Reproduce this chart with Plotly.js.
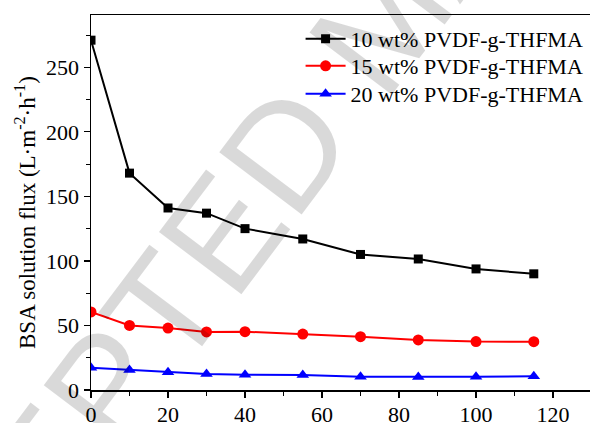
<!DOCTYPE html>
<html><head><meta charset="utf-8">
<script src="https://cdn.plot.ly/plotly-3.0.1.min.js"></script>
<style>html,body{margin:0;padding:0;overflow:hidden;background:#fff}</style>
</head><body><div id="chart" style="width:590px;height:423px"></div>
<script>
const time = [0, 10, 20, 30, 40, 55, 70, 85, 100, 115];
const flux10 = [271, 168, 141, 137, 125, 117, 105, 101.5, 93.8, 90];
const flux15 = [60.5, 50, 48, 45, 45.2, 43.3, 41.3, 38.8, 37.5, 37.4];
const flux20 = [17.3, 15.5, 13.8, 12.3, 11.8, 11.6, 10.3, 10, 10.2, 10.7];
const names = ['10 wt% PVDF-g-THFMA', '15 wt% PVDF-g-THFMA', '20 wt% PVDF-g-THFMA'];
const yTitle = 'BSA solution flux (L·m<sup>-2</sup>·h<sup>-1</sup>)';
const watermark = 'ACCEPTED MANUSCRIPT';

const font = {family: 'Liberation Serif, Times New Roman, serif', color: '#000'};
function tr(y, name, color, symbol, size, leg) {
  return {x: time, y: y, name: name, type: 'scatter', mode: 'lines+markers', legend: leg,
    line: {color: color, width: 2}, marker: {color: color, symbol: symbol, size: size}};
}
const data = [
  tr(flux10, names[0], '#000000', 'square', 9, 'legend'),
  tr(flux15, names[1], '#ff0000', 'circle', 11, 'legend2'),
  tr(flux20, names[2], '#0000ff', 'triangle-up', 11, 'legend3')
];
function leg(rowY) {
  return {x: 0.42, xanchor: 'left', y: (390 - rowY) / 375, yanchor: 'middle', bgcolor: 'rgba(0,0,0,0)',
    font: Object.assign({size: 22}, font), itemwidth: 40};
}
const layout = {
  width: 590, height: 423,
  margin: {l: 91, r: 0, t: 15, b: 33},
  paper_bgcolor: '#fff', plot_bgcolor: '#fff',
  font: Object.assign({size: 22}, font),
  showlegend: true,
  legend: leg(39), legend2: leg(66), legend3: leg(94),
  xaxis: {range: [0, 129.6], showgrid: false, zeroline: false, showline: true, linecolor: '#000', linewidth: 1.5,
    mirror: true, ticks: 'outside', ticklen: 6, tickwidth: 1.2, tickcolor: '#000', dtick: 20, tick0: 0,
    ticklabelstandoff: -2,
    minor: {ticks: 'outside', ticklen: 4, dtick: 10, tickcolor: '#000', tickwidth: 1},
    tickfont: Object.assign({size: 22}, font)},
  yaxis: {range: [0, 290.5], showgrid: false, zeroline: false, showline: true, linecolor: '#000', linewidth: 1.5,
    ticks: 'outside', ticklen: 6, tickwidth: 1.2, tickcolor: '#000', dtick: 50, tick0: 0,
    minor: {ticks: 'outside', ticklen: 4, dtick: 25, tickcolor: '#000', tickwidth: 1},
    tickfont: Object.assign({size: 22}, font)},
  annotations: [
    {text: yTitle, xref: 'paper', yref: 'paper', x: (25 - 91) / 499, y: (390 - 213) / 375,
      xanchor: 'center', yanchor: 'middle', textangle: -90, showarrow: false,
      font: Object.assign({size: 23}, font)},
    {text: watermark, xref: 'paper', yref: 'paper', x: (383 - 91) / 499, y: (390 - 20) / 375,
      xanchor: 'center', yanchor: 'middle', textangle: -53, showarrow: false,
      font: {family: 'Liberation Sans, Arial, sans-serif', size: 150, color: 'rgba(0,0,0,0.15)'}}
  ]
};
Plotly.newPlot('chart', data, layout, {displayModeBar: false, staticPlot: true});
</script></body></html>
